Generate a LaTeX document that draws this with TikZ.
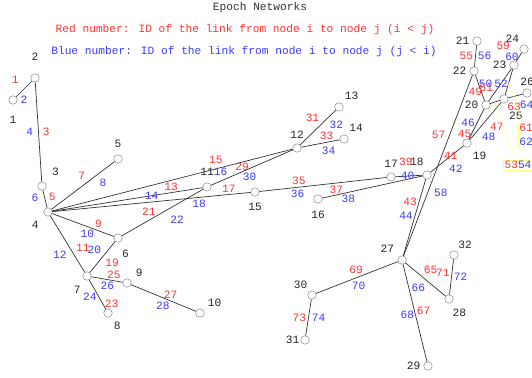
\documentclass[tikz,border=0pt]{standalone}
\usepackage{fontspec}
\usepackage{tikz}
\usetikzlibrary{arrows.meta}
\newfontfamily\netmono{Liberation Mono}
\newcommand{\linkfont}{\netmono\fontsize{11.2}{13.4}\selectfont}
\definecolor{linkred}{HTML}{FF3333}
\definecolor{linkblue}{HTML}{3A3AFF}
\definecolor{callyel}{HTML}{FFFF80}
\tikzset{
  station/.style={circle, draw=black!55, fill=white, minimum size=8.5pt, inner sep=0pt},
  link/.style={draw=black!80, line width=0.7pt},
  rl/.style={text=linkred, font=\linkfont, inner sep=2pt},
  bl/.style={text=linkblue, font=\linkfont, inner sep=2pt},
  nl/.style={text=black!85, font=\linkfont, inner sep=1pt},
  keytext/.style={font=\linkfont, inner sep=0pt},
  callbox/.style={draw=callyel, font=\linkfont, inner sep=1.5pt, align=center},
  callout/.style={draw=callyel, -{Straight Barb[length=4pt,width=5pt]}}
}
\begin{document}
\begin{tikzpicture}[x=1pt, y=-1pt]
  \useasboundingbox (0,0) rectangle (532,377);
  \clip (0,0) rectangle (532,377);

  % title and key
  \node[keytext, text=black!80] (title) at (260,8) {Epoch Networks};
  \node[keytext, text=linkred] (redkey) at (245,30) {Red number: ID of the link from node i to node j (i < j)};
  \node[keytext, text=linkblue] (bluekey) at (244,52) {Blue number: ID of the link from node i to node j (j < i)};

  % nodes
  \node[station, label={[nl, label distance=10pt]below:1}] (n1) at (13,100) {};
  \node[station, label={[nl, label distance=12pt]above:2}] (n2) at (35,78) {};
  \node[station, label={[nl, label distance=8pt]45:3}] (n3) at (42,186) {};
  \node[station, label={[nl, label distance=7pt]225:4}] (n4) at (48,212) {};
  \node[station, label={[nl, label distance=6pt]above:5}] (n5) at (118,159) {};
  \node[station, label={[nl, label distance=7pt]285:6}] (n6) at (118,238) {};
  \node[station, label={[nl, label distance=6pt]240:7}] (n7) at (87,276) {};
  \node[station, label={[nl, label distance=5pt]300:8}] (n8) at (108,313) {};
  \node[station, label={[nl, label distance=5pt]35:9}] (n9) at (127,283) {};
  \node[station, label={[nl, label distance=4pt]38:10}] (n10) at (200,313) {};
  \node[station, label={[nl, label distance=6pt]above:11}] (n11) at (207,187) {};
  \node[station, label={[nl, label distance=4pt]above:12}] (n12) at (297,148) {};
  \node[station, label={[nl, label distance=3pt]50:13}] (n13) at (339,107) {};
  \node[station, label={[nl, label distance=3pt]55:14}] (n14) at (344,139) {};
  \node[station, label={[nl, label distance=5pt]below:15}] (n15) at (255,192) {};
  \node[station, label={[nl, label distance=6pt]below:16}] (n16) at (318,199) {};
  \node[station, label={[nl, label distance=4pt]above:17}] (n17) at (391,177) {};
  \node[station, label={[nl, label distance=4pt]105:18}] (n18) at (427,175) {};
  \node[station, label={[nl, label distance=5pt]300:19}] (n19) at (467,143) {};
  \node[station, label={[nl, label distance=2pt]left:20}] (n20) at (486,105) {};
  \node[station, label={[nl, label distance=2pt]left:21}] (n21) at (477,41) {};
  \node[station, label={[nl, label distance=2pt]left:22}] (n22) at (474,71) {};
  \node[station, label={[nl, label distance=2pt]left:23}] (n23) at (514,65) {};
  \node[station, label={[nl, label distance=2pt]126:24}] (n24) at (524,49) {};
  \node[station, label={[nl, label distance=8pt]288:25}] (n25) at (504,99) {};
  \node[station, label={[nl, label distance=2pt]above:26}] (n26) at (527,93) {};
  \node[station, label={[nl, label distance=5pt]135:27}] (n27) at (402,260) {};
  \node[station, label={[nl, label distance=5pt]285:28}] (n28) at (449,299) {};
  \node[station, label={[nl, label distance=2pt]left:29}] (n29) at (428,366) {};
  \node[station, label={[nl, label distance=2pt]122:30}] (n30) at (312,295) {};
  \node[station, label={[nl, label distance=0pt]left:31}] (n31) at (305,340) {};
  \node[station, label={[nl, label distance=2pt]61:32}] (n32) at (454,255) {};

  % links, red i<j and blue j<i
  \draw[link] (n1) -- node[rl, above left=3pt] {1} node[bl, below=5pt] {2} (n2);
  \draw[link] (n2) -- node[rl, right=2pt] {3} node[bl, left=3pt] {4} (n3);
  \draw[link] (n3) -- node[rl, pos=.35, right=2pt] {5} node[bl, pos=.45, left=4pt] {6} (n4);
  \draw[link] (n4) -- node[rl, pos=.57, above left] {7} node[bl, pos=.71, below right=1pt] {8} (n5);
  \draw[link] (n4) -- node[rl, pos=.75, above=1pt] {9} node[bl, pos=.57, below=1pt] {10} (n6);
  \draw[link] (n4) -- node[rl, pos=.68, above right] {11} node[bl, pos=.57, below left=1pt] {12} (n7);
  \draw[link] (n4) -- node[rl, pos=.79, above] {13} node[bl, pos=.66] {14} (n11);
  \draw[link] (n4) -- node[rl, pos=.68, above=3pt] {15} node[bl, pos=.70, below=-2pt] {16} (n12);
  \draw[link] (n4) -- node[rl, pos=.89, above] {17} node[bl, pos=.74, below] {18} (n15);
  \draw[link] (n6) -- node[rl, pos=.48, below right] {19} node[bl, pos=.46, above left] {20} (n7);
  \draw[link] (n6) -- node[rl, pos=.42, above left=-2pt] {21} node[bl, pos=.53, below right=3pt] {22} (n11);
  \draw[link] (n7) -- node[rl, pos=.81, right] {23} node[bl, pos=.59, left] {24} (n8);
  \draw[link] (n7) -- node[rl, pos=.72, above] {25} node[bl, pos=.51, below] {26} (n9);
  \draw[link] (n9) -- node[rl, pos=.61, above] {27} node[bl, pos=.49, below=2pt] {28} (n10);
  \draw[link] (n11) -- node[rl, pos=.38, above=-1pt] {29} node[bl, pos=.47, below=2pt] {30} (n12);
  \draw[link] (n12) -- node[rl, pos=.6, above left] {31} node[bl, pos=.76, below right] {32} (n13);
  \draw[link] (n12) -- node[rl, pos=.66, above] {33} node[bl, pos=.71, below=3pt] {34} (n14);
  \draw[link] (n15) -- node[rl, pos=.31, above] {35} node[bl, pos=.30, below] {36} (n17);
  \draw[link] (n16) -- node[rl, pos=.14, above=-1pt] {37} node[bl, pos=.26, below] {38} (n18);
  \draw[link] (n17) -- node[rl, pos=.38, above=8pt] {39} node[bl, pos=.45] {40} (n18);
  \draw[link] (n18) -- node[rl, pos=.61] {41} node[bl, pos=.43, below right=2pt] {42} (n19);
  \draw[link] (n18) -- node[rl, pos=.29, left] {43} node[bl, pos=.475, left] {44} (n27);
  \draw[link] (n19) -- node[rl, pos=.18, left=-2pt] {45} node[bl, pos=.54, left] {46} (n20);
  \draw[link] (n19) -- node[rl, pos=.54, below right=1pt] {47} node[bl, pos=.28, below right=1pt] {48} (n25);
  \draw[link] (n20) -- node[rl, pos=.35, left=-3pt] {49} node[bl, pos=.66, right=-2pt] {50} (n22);
  \draw[link] (n20) -- node[rl, pos=.26, above left=-1pt] {51} node[bl, pos=.55] {52} (n23);
  \draw[link] (n20) -- coordinate[pos=.5] (e2025) (n25);
  \draw[link] (n21) -- node[rl, left] {55} node[bl, right] {56} (n22);
  \draw[link] (n22) -- node[rl, pos=.33, left=2pt] {57} node[bl, pos=.65, right=4pt] {58} (n27);
  \draw[link] (n23) -- node[rl, pos=.37, above left=6pt] {59} node[bl, pos=.51, left=-2pt] {60} (n24);
  \draw[link] (n23) -- coordinate[pos=.5] (e2325) (n25);
  \draw[link] (n25) -- node[rl, pos=.4, below=4pt] {63} node[bl, pos=1, below=5pt, xshift=4pt] {64} (n26);
  \draw[link] (n27) -- node[rl, pos=.40, above right] {65} node[bl, pos=.55, below left] {66} (n28);
  \draw[link] (n27) -- node[rl, pos=.48, right] {67} node[bl, pos=.52, left=-1pt] {68} (n29);
  \draw[link] (n27) -- node[rl, pos=.51, above=2pt] {69} node[bl, pos=.48, below=3pt] {70} (n30);
  \draw[link] (n28) -- node[rl, pos=.62, left] {71} node[bl, pos=.5, right] {72} (n32);
  \draw[link] (n30) -- node[rl, left] {73} node[bl, right=1pt] {74} (n31);

  % callouts for the crowded links
  \node[callbox] (c5354) at (518,165) {\textcolor{linkred}{53}\textcolor{linkblue}{54}};
  \node[callbox] (c6162) at (526,135) {\textcolor{linkred}{61}\\\textcolor{linkblue}{62}};
  \draw[callout] (c5354) -- (e2025);
  \draw[callout] (c6162) -- (e2325);
\end{tikzpicture}
\end{document}
